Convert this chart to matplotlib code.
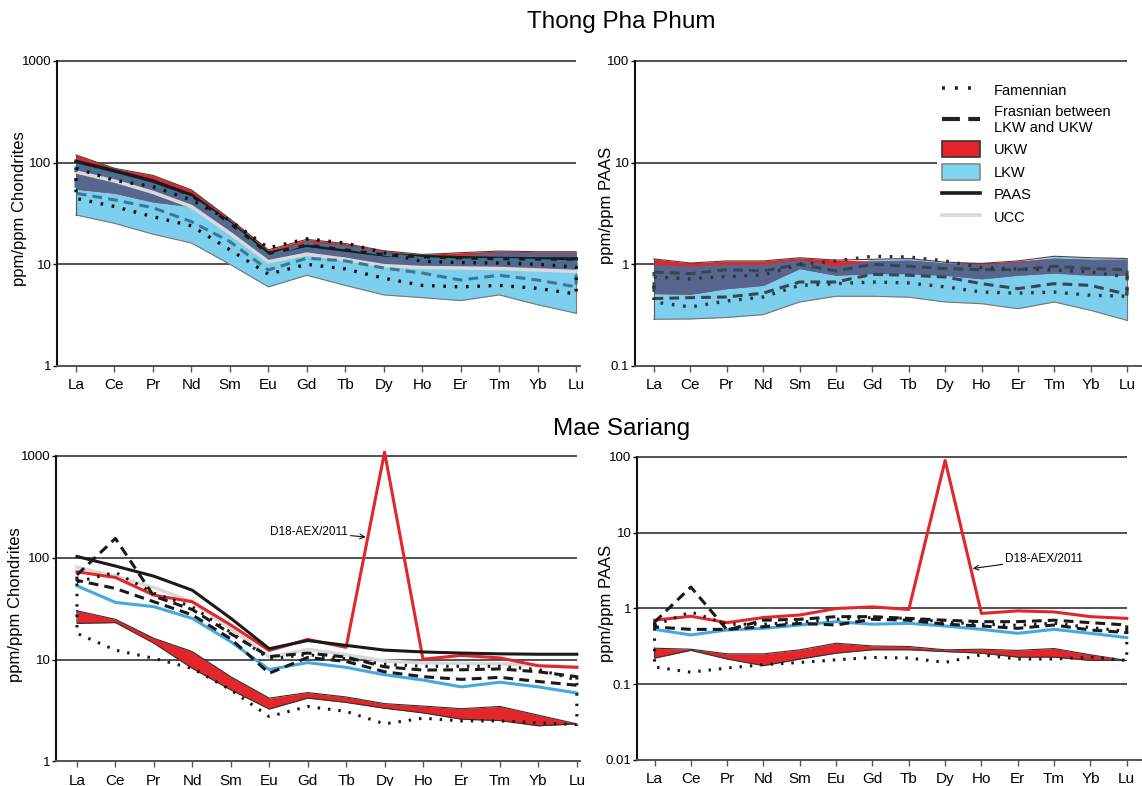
import numpy as np
import matplotlib
matplotlib.use("Agg")
import matplotlib.pyplot as plt
from matplotlib.lines import Line2D
from matplotlib.patches import Patch
from matplotlib.ticker import FixedLocator, FixedFormatter, NullLocator

plt.rcParams['font.family'] = ['Liberation Sans', 'DejaVu Sans']

# REE order
elements = ["La", "Ce", "Pr", "Nd", "Sm", "Eu", "Gd", "Tb", "Dy", "Ho", "Er", "Tm", "Yb", "Lu"]

# reference curves (chondrite normalised)
paas_chon = [103, 83, 66, 48, 25.5, 12.8, 15.4, 13.8, 12.4, 11.9, 11.6, 11.4, 11.3, 11.3]
ucc_chon = [81, 66, 51, 37, 20.2, 10.6, 12.6, 11.2, 9.7, 9.3, 9.2, 9.1, 8.8, 8.5]

# Thong Pha Phum - chondrite normalised
tpp_ukw_hi_c = [119, 88, 75, 54, 28, 13.9, 17.6, 16.0, 13.6, 12.5, 13.0, 13.5, 13.3, 13.3]
tpp_ukw_lo_c = [54.8, 50, 41, 37, 21, 10.6, 12.9, 11.8, 9.8, 9.3, 9.2, 9.2, 9.0, 8.8]
tpp_lkw_hi_c = [102, 83, 68, 49, 26, 12.8, 16.5, 15.5, 13.2, 12.4, 12.2, 13.2, 13.0, 13.0]
tpp_lkw_lo_c = [30.6, 25.3, 19.8, 16.2, 10.0, 6.0, 7.8, 6.2, 5.0, 4.7, 4.4, 5.0, 4.0, 3.3]
tpp_fras_hi_c = [92, 75, 60, 45, 25, 12.0, 16.2, 14.5, 12.6, 11.4, 11.0, 11.2, 10.9, 10.5]
tpp_fras_lo_c = [50, 43, 36, 26.3, 16.7, 8.8, 11.5, 10.8, 9.2, 8.2, 7.0, 7.8, 7.0, 6.0]
tpp_fam_hi_c = [88, 67, 58, 43, 27, 14.5, 17.8, 16.2, 13.0, 10.7, 10.4, 10.3, 10.0, 9.4]
tpp_fam_lo_c = [44.5, 37, 29.4, 23.9, 13.9, 8.0, 10.0, 9.0, 7.3, 6.2, 6.0, 6.2, 5.8, 5.1]

# Thong Pha Phum - PAAS normalised
tpp_ukw_hi_p = [1.13, 1.03, 1.08, 1.08, 1.16, 1.10, 1.08, 1.10, 1.03, 1.02, 1.08, 1.15, 1.12, 1.12]
tpp_ukw_lo_p = [0.515, 0.507, 0.576, 0.62, 0.906, 0.78, 0.81, 0.81, 0.78, 0.72, 0.78, 0.82, 0.78, 0.78]
tpp_lkw_hi_p = [1.0, 0.96, 1.0, 1.0, 1.11, 0.97, 1.12, 1.14, 1.05, 1.0, 1.05, 1.2, 1.16, 1.14]
tpp_lkw_lo_p = [0.288, 0.29, 0.30, 0.32, 0.426, 0.485, 0.485, 0.475, 0.426, 0.41, 0.366, 0.426, 0.352, 0.281]
tpp_fras_hi_p = [0.84, 0.81, 0.886, 0.86, 1.0, 0.86, 1.0, 0.956, 0.906, 0.886, 0.886, 0.956, 0.906, 0.886]
tpp_fras_lo_p = [0.46, 0.47, 0.477, 0.52, 0.67, 0.67, 0.797, 0.78, 0.75, 0.645, 0.576, 0.645, 0.62, 0.507]
tpp_fam_hi_p = [0.75, 0.72, 0.76, 0.78, 1.0, 1.08, 1.2, 1.18, 1.08, 0.93, 0.9, 0.88, 0.84, 0.75]
tpp_fam_lo_p = [0.426, 0.38, 0.436, 0.477, 0.62, 0.645, 0.67, 0.655, 0.60, 0.534, 0.52, 0.534, 0.496, 0.485]

# Mae Sariang - chondrite normalised
ms_red_c = [72.9, 64.1, 43, 37, 21.9, 12.3, 15.8, 13.2, 1090, 10.1, 11.0, 10.4, 8.7, 8.4]
ms_blue_c = [53.1, 36.5, 33.1, 25.4, 15.0, 8.0, 9.35, 8.4, 7.1, 6.3, 5.4, 6.0, 5.4, 4.7]
ms_ukw_hi_c = [30.2, 24.9, 16.2, 12.0, 6.8, 4.19, 4.75, 4.3, 3.7, 3.5, 3.3, 3.47, 2.85, 2.34]
ms_ukw_lo_c = [22.7, 23.1, 14.5, 8.2, 5.05, 3.27, 4.19, 3.8, 3.33, 3.0, 2.6, 2.52, 2.24, 2.34]
ms_fras_hi_c = [68, 155, 42, 31, 18, 10.7, 11.6, 10.6, 8.5, 7.9, 7.95, 8.1, 7.6, 6.8]
ms_fras_lo_c = [60, 50, 37, 27.5, 16, 7.35, 10.5, 9.6, 7.6, 6.8, 6.4, 6.7, 6.1, 5.6]
ms_fam_hi_c = [58, 72, 45, 33, 18.5, 10.2, 11.2, 10.2, 9.0, 8.6, 8.6, 8.6, 8.0, 6.3]
ms_fam_lo_c = [18.1, 12.4, 10.3, 8.2, 5.05, 2.76, 3.47, 3.1, 2.34, 2.66, 2.5, 2.5, 2.4, 2.3]

# Mae Sariang - PAAS normalised
ms_red_p = [0.70, 0.79, 0.65, 0.76, 0.82, 1.0, 1.05, 0.97, 90, 0.86, 0.93, 0.9, 0.78, 0.74]
ms_blue_p = [0.53, 0.447, 0.52, 0.547, 0.605, 0.669, 0.62, 0.636, 0.587, 0.53, 0.47, 0.53, 0.47, 0.413]
ms_ukw_hi_p = [0.299, 0.29, 0.252, 0.252, 0.285, 0.348, 0.32, 0.315, 0.285, 0.29, 0.28, 0.296, 0.245, 0.206]
ms_ukw_lo_p = [0.221, 0.28, 0.215, 0.176, 0.215, 0.257, 0.285, 0.285, 0.27, 0.257, 0.228, 0.228, 0.206, 0.206]
ms_fras_hi_p = [0.66, 1.92, 0.52, 0.70, 0.72, 0.78, 0.78, 0.74, 0.70, 0.67, 0.67, 0.70, 0.65, 0.605]
ms_fras_lo_p = [0.57, 0.53, 0.53, 0.575, 0.636, 0.605, 0.72, 0.70, 0.62, 0.587, 0.547, 0.605, 0.52, 0.48]
ms_fam_hi_p = [0.60, 0.90, 0.62, 0.62, 0.66, 0.72, 0.76, 0.74, 0.66, 0.62, 0.60, 0.64, 0.56, 0.50]
ms_fam_lo_p = [0.169, 0.144, 0.164, 0.181, 0.194, 0.21, 0.226, 0.222, 0.194, 0.245, 0.215, 0.215, 0.228, 0.206]

RED = '#e3262a'
LBLUE = '#7ccfed'
DARK = '#56668f'
LINEBLUE = '#45a8e0'
UCC_C = '#d9d9d9'
DOT = (0, (0.8, 2.6))
DASH = (0, (3.2, 2.0))

x = np.arange(len(elements))


def style(ax, xlim, decades, labels):
    ax.set_yscale('log')
    ax.set_xlim(*xlim)
    ax.set_ylim(decades[0], decades[-1])
    ax.hlines(decades, xlim[0], 13, color='#222222', lw=1.1, zorder=1, clip_on=False)
    for s in ['top', 'right']:
        ax.spines[s].set_visible(False)
    ax.spines['left'].set_color('#111111')
    ax.spines['left'].set_linewidth(1.5)
    ax.spines['bottom'].set_color('#555555')
    ax.spines['bottom'].set_linewidth(1.4)
    ax.set_xticks(x)
    ax.set_xticklabels(elements, fontsize=11)
    ax.yaxis.set_major_locator(FixedLocator(decades))
    ax.yaxis.set_major_formatter(FixedFormatter(labels))
    ax.yaxis.set_minor_locator(NullLocator())
    ax.tick_params(axis='x', length=4, width=1, color='#555555', pad=5)
    ax.tick_params(axis='y', length=3, width=1, pad=1, labelsize=9.5)


def closed(ax, hi, lo, **kw):
    xs = np.r_[x, x[::-1], x[:1]]
    ys = np.r_[hi, lo[::-1], hi[:1]]
    ax.plot(xs, ys, **kw)


def bands(ax, ukw_hi, ukw_lo, lkw_hi, lkw_lo):
    ukw_hi, ukw_lo = np.array(ukw_hi), np.array(ukw_lo)
    lkw_hi, lkw_lo = np.array(lkw_hi), np.array(lkw_lo)
    ax.fill_between(x, lkw_lo, lkw_hi, color=LBLUE, lw=0, zorder=2)
    ax.fill_between(x, ukw_lo, ukw_hi, color=RED, lw=0, zorder=2.1)
    ov_lo = np.maximum(ukw_lo, lkw_lo)
    ov_hi = np.minimum(ukw_hi, lkw_hi)
    ax.fill_between(x, ov_lo, ov_hi, where=ov_hi > ov_lo, interpolate=True,
                    color=DARK, lw=0, zorder=2.2)
    ax.plot(x, np.maximum(ukw_hi, lkw_hi), color='#444444', lw=0.8, zorder=2.3)
    ax.plot(x, lkw_lo, color='#777777', lw=0.8, zorder=2.3)
    ax.plot([x[0], x[0]], [lkw_lo[0], max(ukw_hi[0], lkw_hi[0])], color='#555555', lw=0.8, zorder=2.3)
    ax.plot([x[-1], x[-1]], [lkw_lo[-1], max(ukw_hi[-1], lkw_hi[-1])], color='#777777', lw=0.8, zorder=2.3)


fig = plt.figure(figsize=(11.42, 7.86), dpi=100)
ax_tl = fig.add_axes([0.0499, 0.5344, 0.4580, 0.3880])
ax_tr = fig.add_axes([0.5560, 0.5344, 0.4440, 0.3880])
ax_bl = fig.add_axes([0.0490, 0.0312, 0.4588, 0.3887])
ax_br = fig.add_axes([0.5578, 0.0331, 0.4422, 0.3855])

# ---- Thong Pha Phum, chondrite ----
ax = ax_tl
style(ax, (-0.494, 13.10), [1, 10, 100, 1000], ["1", "10", "100", "1000"])
bands(ax, tpp_ukw_hi_c, tpp_ukw_lo_c, tpp_lkw_hi_c, tpp_lkw_lo_c)
ax.plot(x, ucc_chon, color=UCC_C, lw=2.5, zorder=3)
ax.plot(x, paas_chon, color='#1a1a1a', lw=2.5, zorder=3.1)
closed(ax, tpp_fras_hi_c, tpp_fras_lo_c, color='#3a7896', lw=2.2, ls=DASH, zorder=3.2)
closed(ax, tpp_fam_hi_c, tpp_fam_lo_c, color='#111111', lw=2.4, ls=DOT, zorder=3.3)
ax.set_ylabel("ppm/ppm Chondrites", fontsize=12)
ax.yaxis.set_label_coords(-0.058, 0.515)

# ---- Thong Pha Phum, PAAS ----
ax = ax_tr
style(ax, (-0.522, 13.41), [0.1, 1, 10, 100], ["0.1", "1", "10", "100"])
bands(ax, tpp_ukw_hi_p, tpp_ukw_lo_p, tpp_lkw_hi_p, tpp_lkw_lo_p)
closed(ax, tpp_fras_hi_p, tpp_fras_lo_p, color='#38474f', lw=2.2, ls=DASH, zorder=3.2)
closed(ax, tpp_fam_hi_p, tpp_fam_lo_p, color='#333333', lw=2.4, ls=DOT, zorder=3.3)
ax.set_ylabel("ppm/ppm PAAS", fontsize=12)
ax.yaxis.set_label_coords(-0.041, 0.525)

handles = [
    Line2D([], [], color='#222222', lw=2.6, ls=(0, (0.8, 2.8))),
    Line2D([], [], color='#222222', lw=3, ls=(0, (4.3, 2.0))),
    Patch(facecolor=RED, edgecolor='#333333', lw=1.2),
    Patch(facecolor='#7fd5ee', edgecolor='#8a8a8a', lw=1.2),
    Line2D([], [], color='#1a1a1a', lw=2.6),
    Line2D([], [], color=UCC_C, lw=2.6),
]
labels = ["Famennian", "Frasnian between\nLKW and UKW", "UKW", "LKW", "PAAS", "UCC"]
leg = ax.legend(handles, labels, loc='upper left', bbox_to_anchor=(0.595, 0.42, 0.385, 0.53),
                mode='expand', fontsize=10.5, frameon=True, facecolor='white', edgecolor='none',
                framealpha=1, handlelength=2.6, handleheight=1.3, handletextpad=0.9,
                labelspacing=0.45, borderpad=0.4, borderaxespad=0)
leg.set_zorder(5)

# ---- Mae Sariang, chondrite ----
ax = ax_bl
style(ax, (-0.546, 13.08), [1, 10, 100, 1000], ["1", "10", "100", "1000"])
ax.fill_between(x, ms_ukw_lo_c, ms_ukw_hi_c, color=RED, lw=0, zorder=2)
closed(ax, ms_ukw_hi_c, ms_ukw_lo_c, color='#333333', lw=0.8, zorder=2.1)
ax.plot(x, ucc_chon, color=UCC_C, lw=2.5, zorder=3)
ax.plot(x, ms_blue_c, color=LINEBLUE, lw=2.2, zorder=3.1)
ax.plot(x, ms_red_c, color=RED, lw=2.2, zorder=3.2, clip_on=False)
ax.plot(x, paas_chon, color='#1a1a1a', lw=2.2, zorder=3.3)
closed(ax, ms_fras_hi_c, ms_fras_lo_c, color='#1a1a1a', lw=2.2, ls=DASH, zorder=3.4)
closed(ax, ms_fam_hi_c, ms_fam_lo_c, color='#1a1a1a', lw=2.2, ls=DOT, zorder=3.5)
ax.annotate("D18-AEX/2011", xy=(7.51, 160), xytext=(5.02, 180), fontsize=8.5,
            ha='left', va='center',
            arrowprops=dict(arrowstyle='->', color='#111111', lw=0.8, shrinkA=0, shrinkB=0))
ax.set_ylabel("ppm/ppm Chondrites", fontsize=12)
ax.yaxis.set_label_coords(-0.063, 0.515)

# ---- Mae Sariang, PAAS ----
ax = ax_br
style(ax, (-0.482, 13.42), [0.01, 0.1, 1, 10, 100], ["0.01", "0.1", "1", "10", "100"])
ax.fill_between(x, ms_ukw_lo_p, ms_ukw_hi_p, color=RED, lw=0, zorder=2)
closed(ax, ms_ukw_hi_p, ms_ukw_lo_p, color='#333333', lw=0.8, zorder=2.1)
ax.plot(x, ms_blue_p, color=LINEBLUE, lw=2.2, zorder=3.1)
ax.plot(x, ms_red_p, color=RED, lw=2.2, zorder=3.2)
closed(ax, ms_fras_hi_p, ms_fras_lo_p, color='#1a1a1a', lw=2.2, ls=DASH, zorder=3.4)
closed(ax, ms_fam_hi_p, ms_fam_lo_p, color='#1a1a1a', lw=2.2, ls=DOT, zorder=3.5)
ax.annotate("D18-AEX/2011", xy=(8.76, 3.37), xytext=(9.66, 4.56), fontsize=8.5,
            ha='left', va='center',
            arrowprops=dict(arrowstyle='->', color='#111111', lw=0.8, shrinkA=0, shrinkB=0))
ax.set_ylabel("ppm/ppm PAAS", fontsize=12)
ax.yaxis.set_label_coords(-0.0455, 0.515)

fig.text(621 / 1142, 1 - 22 / 786, "Thong Pha Phum", fontsize=17.5, ha='center', va='center')
fig.text(622 / 1142, 1 - 429 / 786, "Mae Sariang", fontsize=17.5, ha='center', va='center')

fig.savefig("out.png", dpi=100)
